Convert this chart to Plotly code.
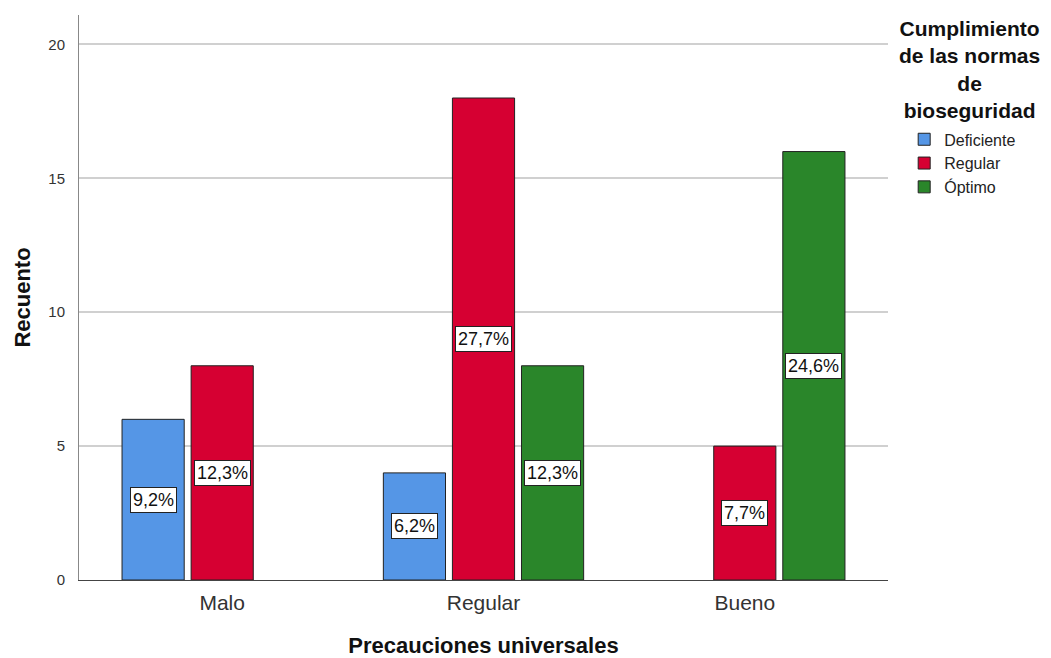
import plotly.graph_objects as go

categories = ["Malo", "Regular", "Bueno"]
series_names = ["Deficiente", "Regular", "Óptimo"]
deficiente = [6, 4, None]
regular = [8, 18, 5]
optimo = [None, 8, 16]
pct_deficiente = ["9,2%", "6,2%", None]
pct_regular = ["12,3%", "27,7%", "7,7%"]
pct_optimo = [None, "12,3%", "24,6%"]
y_ticks = [0, 5, 10, 15, 20]
legend_title = "Cumplimiento<br>de las normas<br>de<br>bioseguridad"

colors = ["#5596E6", "#D60032", "#2A862A"]
values = [deficiente, regular, optimo]
pcts = [pct_deficiente, pct_regular, pct_optimo]

font_family = "Arial, Liberation Sans, sans-serif"

fig = go.Figure()
for name, vals, col in zip(series_names, values, colors):
    fig.add_trace(go.Bar(
        name=name, x=categories, y=vals,
        marker=dict(color=col, line=dict(color="#222222", width=1)),
    ))

slot = 0.264
annotations = []
for j, (vals, labels) in enumerate(zip(values, pcts)):
    for i, (v, lab) in enumerate(zip(vals, labels)):
        if v is None or lab is None:
            continue
        annotations.append(dict(
            x=i + (j - 1) * slot, y=v / 2, xref="x", yref="y",
            text=lab, showarrow=False,
            font=dict(family=font_family, size=18, color="#111111"),
            bgcolor="white", bordercolor="#222222", borderwidth=1, borderpad=2,
        ))

annotations.append(dict(
    x=1.101, y=1.0, xref="paper", yref="paper",
    xanchor="center", yanchor="top", align="center",
    text="<b>" + legend_title + "</b>", showarrow=False,
    font=dict(family=font_family, size=21, color="#111111"),
))

fig.update_layout(
    width=1051, height=658,
    margin=dict(l=79, r=163, t=15, b=78),
    paper_bgcolor="white", plot_bgcolor="white",
    barmode="group", bargap=0.207, bargroupgap=0.1,
    font=dict(family=font_family, color="#222222"),
    annotations=annotations,
    showlegend=True,
    legend=dict(
        x=1.02, y=0.81, xanchor="left", yanchor="top",
        font=dict(family=font_family, size=16, color="#222222"),
        traceorder="normal", itemwidth=30, tracegroupgap=0,
    ),
    xaxis=dict(
        range=[-0.548, 2.548], automargin=False,
        showline=True, linecolor="#444444", linewidth=1,
        showgrid=False, ticks="",
        tickfont=dict(family=font_family, size=21, color="#333333"),
        ticklabelstandoff=4,
        title=dict(text="<b>Precauciones universales</b>",
                   font=dict(family=font_family, size=22, color="#111111"),
                   standoff=26),
    ),
    yaxis=dict(
        range=[0, 21.1], tickvals=y_ticks, automargin=False,
        showline=True, linecolor="#888888", linewidth=1,
        showgrid=True, gridcolor="#D0D0D0", gridwidth=2,
        zeroline=False, ticks="",
        tickfont=dict(family=font_family, size=15, color="#333333"),
        ticklabelstandoff=10,
        title=dict(text="<b>Recuento</b>",
                   font=dict(family=font_family, size=22, color="#111111"),
                   standoff=11),
    ),
)

fig.write_html("out.html")
